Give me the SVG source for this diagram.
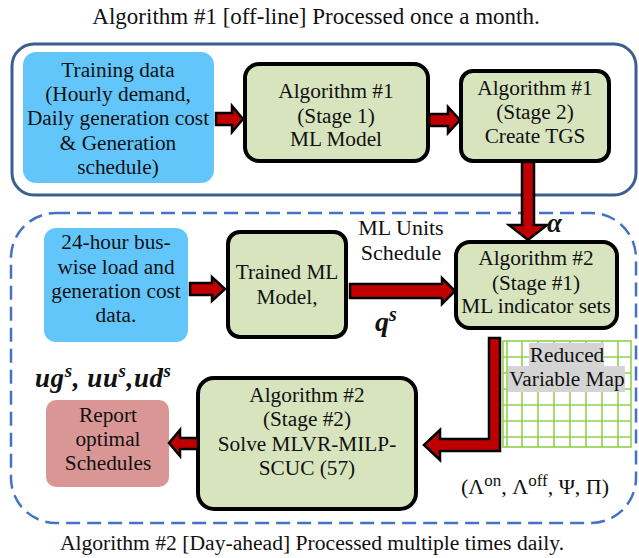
<svg xmlns="http://www.w3.org/2000/svg" width="639" height="558" viewBox="0 0 639 558" font-family="'Liberation Serif', 'Times New Roman', serif">
<style>
text{font-family:'Liberation Serif','Times New Roman',serif;fill:#111;text-anchor:middle}
.t{font-size:21.3px}
.data{fill:#63c6fb}
.proc{fill:#d7e4bd;stroke:#000;stroke-width:4}
.arr{fill:#c00000;stroke:#000;stroke-width:2.5;stroke-linejoin:miter}
.grid line{stroke:#92d050;stroke-width:1.6}
.m{font-weight:bold;font-style:italic;text-anchor:start}
</style>
<rect width="639" height="558" fill="#fff"/>
<text x="316" y="24" font-size="23">Algorithm #1 [off-line] Processed once a month.</text>
<rect x="12" y="44" width="624" height="151" rx="22" fill="none" stroke="#3c5f8f" stroke-width="3"/>
<rect x="11" y="213" width="625" height="310" rx="45" fill="none" stroke="#4472c4" stroke-width="2.5" stroke-dasharray="14 7"/>
<text x="312" y="550" font-size="21.6">Algorithm #2 [Day-ahead] Processed multiple times daily.</text>

<g id="training">
<rect class="data" x="23" y="52" width="191" height="131" rx="13"/>
<text class="t" x="118" y="77">Training data</text>
<text class="t" x="118" y="101">(Hourly demand,</text>
<text class="t" x="118" y="125">Daily generation cost</text>
<text class="t" x="118" y="150">&amp; Generation</text>
<text class="t" x="118" y="174">schedule)</text>
</g>
<g id="alg1s1">
<rect class="proc" x="245" y="64" width="183" height="97" rx="14"/>
<text class="t" x="336" y="98">Algorithm #1</text>
<text class="t" x="336" y="123">(Stage 1)</text>
<text class="t" x="336" y="146">ML Model</text>
</g>
<g id="alg1s2">
<rect class="proc" x="461" y="71" width="148" height="90" rx="12"/>
<text class="t" x="535" y="95">Algorithm #1</text>
<text class="t" x="535" y="119">(Stage 2)</text>
<text class="t" x="535" y="143">Create TGS</text>
</g>
<g id="load">
<rect class="data" x="44" y="228" width="144" height="114" rx="12"/>
<text class="t" x="116" y="249">24-hour bus-</text>
<text class="t" x="116" y="274">wise load and</text>
<text class="t" x="116" y="298">generation cost</text>
<text class="t" x="116" y="322">data.</text>
</g>
<g id="trained">
<rect class="proc" x="228" y="232" width="118" height="105" rx="12"/>
<text class="t" x="287" y="279">Trained ML</text>
<text class="t" x="287" y="304">Model,</text>
</g>
<g id="alg2s1">
<rect class="proc" x="456" y="242" width="161" height="86" rx="14"/>
<text class="t" x="536" y="265">Algorithm #2</text>
<text class="t" x="536" y="290">(Stage #1)</text>
<text class="t" x="536" y="313">ML indicator sets</text>
</g>
<g id="map">
<g class="grid">
<rect x="503" y="341" width="128" height="106" fill="#fff" stroke="#92d050" stroke-width="1.6"/>
<line x1="507" y1="341" x2="507" y2="447"/>
<line x1="522" y1="341" x2="522" y2="447"/>
<line x1="538" y1="341" x2="538" y2="447"/>
<line x1="554" y1="341" x2="554" y2="447"/>
<line x1="570" y1="341" x2="570" y2="447"/>
<line x1="586" y1="341" x2="586" y2="447"/>
<line x1="602" y1="341" x2="602" y2="447"/>
<line x1="618" y1="341" x2="618" y2="447"/>
<line x1="503" y1="357" x2="631" y2="357"/>
<line x1="503" y1="373" x2="631" y2="373"/>
<line x1="503" y1="389" x2="631" y2="389"/>
<line x1="503" y1="405" x2="631" y2="405"/>
<line x1="503" y1="421" x2="631" y2="421"/>
<line x1="503" y1="437" x2="631" y2="437"/>
</g>
<rect x="529" y="343" width="75" height="23" fill="#d4d4d4"/>
<rect x="508" y="366" width="117" height="26" fill="#d4d4d4"/>
<text class="t" x="567" y="362">Reduced</text>
<text class="t" x="567" y="386">Variable Map</text>
</g>
<g id="alg2s2">
<rect class="proc" x="198" y="378" width="218" height="131" rx="16"/>
<text class="t" x="307" y="402">Algorithm #2</text>
<text class="t" x="307" y="426">(Stage #2)</text>
<text class="t" x="307" y="451">Solve MLVR-MILP-</text>
<text class="t" x="307" y="475">SCUC (57)</text>
</g>
<g id="report">
<rect x="46" y="400" width="123" height="87" rx="10" fill="#d99694"/>
<text class="t" x="108" y="422">Report</text>
<text class="t" x="108" y="446">optimal</text>
<text class="t" x="108" y="470">Schedules</text>
</g>

<g id="connectors">
<polygon class="arr" points="216,113 232,113 232,106 243,119 232,132 232,125 216,125"/>
<polygon class="arr" points="429,114 448,114 448,107 460,120 448,133 448,126 429,126"/>
<polygon class="arr" points="522,162 534,162 534,225 547,225 528,240 509,225 522,225"/>
<polygon class="arr" points="190,283 212,283 212,277 225,289 212,301 212,295 190,295"/>
<polygon class="arr" points="350,284 442,284 442,278 455,291 442,304 442,298 350,298"/>
<polygon class="arr" points="489,338 500,338 500,451 440,451 440,460 424,445 440,430 440,439 489,439"/>
<polygon class="arr" points="198,438 180,438 180,430 169,443 180,456 180,449 198,449"/>
</g>

<text x="401" y="235" font-size="22">ML Units</text>
<text x="401" y="260" font-size="22">Schedule</text>
<text class="m" x="547" y="232" font-size="27">α</text>
<text class="m" x="375" y="331" font-size="28">q<tspan font-size="20" dy="-10">s</tspan></text>
<text class="m" x="35" y="387" font-size="27" textLength="136" lengthAdjust="spacing">ug<tspan font-size="19" dy="-10">s</tspan><tspan dy="10">, uu</tspan><tspan font-size="19" dy="-10">s</tspan><tspan dy="10">,ud</tspan><tspan font-size="19" dy="-10">s</tspan></text>
<text x="535" y="494" font-size="22">(Λ<tspan font-size="17" dy="-8">on</tspan><tspan dy="8">, Λ</tspan><tspan font-size="17" dy="-8">off</tspan><tspan dy="8">, Ψ, Π)</tspan></text>
</svg>
